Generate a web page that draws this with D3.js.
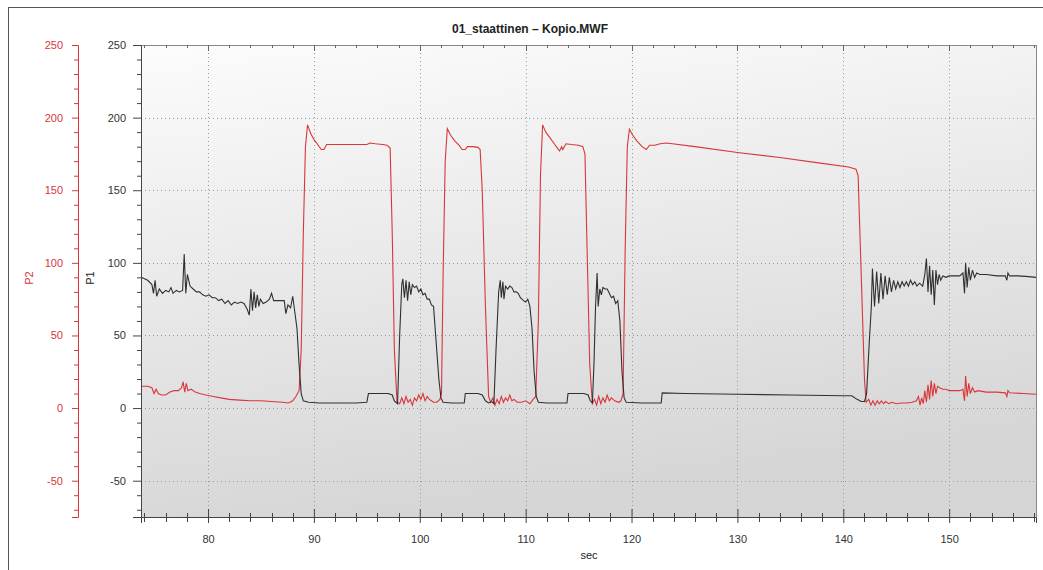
<!DOCTYPE html>
<html>
  <head>
    <meta charset="utf-8">
    <style>
      body { margin: 0; background: #fff; }
      text { font-family: Arial, "Liberation Sans", sans-serif; }
    </style>
  </head>
  <body>
    <svg id="container" width="1043" height="570"></svg>
    <script src="https://cdn.jsdelivr.net/npm/d3@7"></script>
    <script>
      // data: [sec, value]
      const title = "01_staattinen \u2013 Kopio.MWF";
      const xDomain = [73.67, 158.2];
      const yDomain = [-75, 250];
      const xMajor = [80, 90, 100, 110, 120, 130, 140, 150];
      const yMajor = [-50, 0, 50, 100, 150, 200, 250];

      const p1 = [
        [73.7, 90], [74.3, 88], [74.7, 85], [74.85, 79], [75.0, 88], [75.15, 77], [75.4, 82],
        [75.7, 79], [76.0, 81], [76.3, 80], [76.5, 83], [76.7, 79], [77.0, 81], [77.3, 80],
        [77.6, 81], [77.75, 106], [77.9, 79], [78.05, 92], [78.3, 84], [78.6, 82], [78.9, 80],
        [79.2, 80], [79.5, 78], [79.8, 77], [80.1, 78], [80.4, 76], [80.7, 76], [81.0, 74],
        [81.3, 75], [81.6, 72], [81.9, 74], [82.2, 71], [82.5, 73], [82.8, 72], [83.1, 73],
        [83.4, 72], [83.7, 68], [83.9, 64], [84.05, 82], [84.2, 67], [84.35, 80], [84.5, 69],
        [84.65, 78], [84.8, 70], [84.95, 75], [85.2, 72], [85.5, 73], [85.8, 75], [86.0, 79],
        [86.2, 74], [86.6, 74], [87.0, 74], [87.2, 74], [87.35, 65], [87.55, 71], [87.8, 69],
        [88.0, 77], [88.2, 66], [88.4, 55], [88.6, 30], [88.8, 10], [89.0, 5], [89.5, 4],
        [90.5, 3.5], [92, 3.5], [94, 3.5], [95.0, 4], [95.15, 10], [96, 10], [97.0, 10],
        [97.4, 9], [97.6, 5], [97.9, 3], [98.1, 50], [98.3, 85], [98.4, 89], [98.55, 76],
        [98.7, 88], [98.85, 74], [99.0, 87], [99.15, 78], [99.3, 85], [99.5, 83], [99.7, 84],
        [99.9, 80], [100.1, 82], [100.3, 78], [100.5, 79], [100.7, 75], [100.9, 75], [101.1, 71],
        [101.3, 70], [101.5, 50], [101.8, 20], [102.0, 7], [102.2, 4], [103, 3.5], [104.2, 3.5],
        [104.3, 10], [105.5, 10], [105.9, 9], [106.2, 5], [106.5, 3.5], [106.8, 4.5], [107.0, 3],
        [107.2, 40], [107.45, 80], [107.6, 88], [107.7, 76], [107.85, 87], [107.95, 75], [108.1, 84],
        [108.3, 82], [108.5, 84], [108.7, 83], [108.9, 80], [109.1, 80], [109.3, 79], [109.5, 76],
        [109.8, 74], [110.0, 73], [110.2, 75], [110.4, 70], [110.6, 55], [110.8, 25], [111.0, 8],
        [111.2, 4], [112, 3.5], [113.9, 3.5], [114.0, 10], [115.5, 10], [115.9, 9], [116.1, 5],
        [116.3, 3.5], [116.45, 30], [116.6, 70], [116.75, 93], [116.85, 70], [117.0, 82],
        [117.15, 78], [117.3, 83], [117.5, 82], [117.7, 82], [117.9, 79], [118.1, 76], [118.3, 77],
        [118.5, 72], [118.7, 74], [118.9, 60], [119.1, 25], [119.3, 7], [119.5, 4], [121, 3.5],
        [122.8, 3.5], [122.9, 10.5], [125, 10], [130, 9.5], [135, 9], [140, 8.5], [140.8, 8.5],
        [141.3, 6], [141.7, 4.5], [142.0, 4.5], [142.2, 10], [142.45, 45], [142.65, 70],
        [142.75, 96], [142.95, 70], [143.15, 94], [143.35, 72], [143.55, 93], [143.75, 75],
        [143.95, 91], [144.15, 78], [144.35, 90], [144.55, 80], [144.75, 88], [144.95, 82],
        [145.15, 87], [145.35, 83], [145.55, 87], [145.75, 84], [145.95, 87], [146.15, 84],
        [146.35, 88], [146.55, 85], [146.75, 87], [146.95, 84], [147.2, 86], [147.5, 84],
        [147.7, 92], [147.85, 103], [148.0, 80], [148.15, 98], [148.3, 78], [148.45, 95],
        [148.6, 71], [148.75, 95], [148.9, 85], [149.05, 92], [149.2, 88], [149.4, 91],
        [149.7, 90], [150.0, 91], [150.5, 91], [151.0, 91], [151.3, 93], [151.45, 79],
        [151.55, 100], [151.7, 83], [151.85, 97], [152.0, 88], [152.2, 95], [152.4, 90],
        [152.6, 93], [152.9, 92], [153.5, 92], [154.5, 91], [155.3, 91], [155.45, 88],
        [155.55, 93], [155.7, 91], [156.5, 91], [157.5, 90.5], [158.2, 90]
      ];

      const p2 = [
        [73.7, 15], [74.3, 15], [74.7, 14], [74.9, 10], [75.1, 13], [75.3, 10], [75.6, 9],
        [76.0, 9], [76.4, 11], [76.8, 12], [77.2, 12], [77.5, 14], [77.65, 18], [77.8, 11],
        [77.95, 17], [78.1, 12], [78.4, 13], [78.8, 11], [79.2, 10], [79.8, 9], [80.5, 8],
        [81.2, 7], [82.0, 6], [83.0, 5.5], [84.0, 5], [85.0, 5], [86.0, 4.5], [87.0, 4],
        [87.6, 3.5], [88.0, 5], [88.3, 8], [88.6, 12], [88.8, 40], [89.0, 120], [89.2, 180],
        [89.4, 195], [89.7, 189], [90.0, 185], [90.4, 181], [90.7, 178], [90.95, 178],
        [91.2, 181.5], [92, 181.5], [93, 181.5], [94, 181.5], [95.0, 181.5], [95.3, 182.5],
        [95.8, 182], [96.5, 181.5], [96.9, 181], [97.2, 179], [97.4, 120], [97.6, 40], [97.85, 4],
        [98.1, 3], [98.3, 7], [98.5, 3], [98.7, 8], [98.9, 4], [99.1, 6], [99.3, 2], [99.5, 7],
        [99.7, 5], [99.9, 9], [100.1, 6], [100.3, 10], [100.5, 5], [100.7, 8], [100.9, 6],
        [101.1, 5], [101.3, 4], [101.6, 4], [101.9, 6], [102.05, 10], [102.2, 90], [102.4, 170],
        [102.6, 192.5], [102.9, 188], [103.3, 184], [103.7, 181], [104.0, 178], [104.3, 178],
        [104.5, 180], [105.0, 180], [105.5, 179.5], [105.7, 178], [105.9, 150], [106.2, 70],
        [106.5, 8], [106.7, 4], [106.9, 7], [107.1, 2], [107.3, 6], [107.5, 3], [107.7, 8],
        [107.9, 4], [108.1, 7], [108.3, 5], [108.5, 9], [108.7, 5], [108.9, 6], [109.2, 4],
        [109.6, 4], [110.0, 5], [110.4, 3], [110.7, 6], [110.95, 8], [111.2, 60], [111.4, 160],
        [111.6, 195], [111.9, 190], [112.3, 186], [112.7, 182], [113.0, 179], [113.2, 177],
        [113.4, 180], [113.5, 178], [113.8, 182], [114.3, 181.5], [115.0, 181], [115.4, 180],
        [115.6, 175], [115.8, 110], [116.05, 30], [116.3, 3], [116.5, 6], [116.7, 2], [116.9, 8],
        [117.1, 3], [117.3, 7], [117.5, 4], [117.7, 9], [117.9, 5], [118.1, 7], [118.4, 5],
        [118.8, 4], [119.0, 5], [119.2, 10], [119.4, 110], [119.6, 180], [119.8, 192], [120.1, 188],
        [120.5, 184], [121.0, 180], [121.4, 178], [121.7, 181], [122.2, 181], [122.7, 182],
        [123.3, 182.5], [126, 180], [130, 176], [134, 172.5], [138, 168.5], [140.5, 166],
        [141.2, 164.5], [141.4, 160], [141.7, 90], [142.0, 20], [142.15, 4], [142.4, 6], [142.6, 2],
        [142.8, 5], [143.0, 2], [143.2, 5], [143.4, 3], [143.6, 5], [143.8, 3], [144.0, 4.5],
        [144.3, 3], [144.6, 4], [145.0, 3], [145.5, 3.5], [146.0, 3.5], [146.5, 4], [146.9, 5],
        [147.1, 8], [147.25, 2], [147.4, 7], [147.55, 3], [147.7, 12], [147.85, 4], [148.0, 16],
        [148.15, 6], [148.3, 19], [148.45, 8], [148.6, 17], [148.75, 10], [148.9, 15], [149.1, 14],
        [149.4, 13], [149.7, 13], [150.0, 12], [150.5, 12], [151.0, 12], [151.3, 13], [151.45, 5],
        [151.55, 22], [151.7, 8], [151.85, 17], [152.0, 10], [152.2, 14], [152.4, 11], [152.7, 12],
        [153.5, 11], [154.5, 11], [155.3, 10.5], [155.45, 8], [155.55, 12], [155.7, 10.5],
        [157, 10], [158.2, 9.5]
      ];

      const svg = d3.select("#container");
      const pLeft = 141, pRight = 1036, pTop = 45, pBottom = 517;
      const red = "#d9363a";
      const plainNum = (d) => String(d); // hyphen minus, like the original

      const x = d3.scaleLinear().domain(xDomain).range([pLeft, pRight]);
      const y = d3.scaleLinear().domain(yDomain).range([pBottom, pTop]);

      // outer frame
      svg.append("rect")
        .attr("x", 8.5).attr("y", 7.5).attr("width", 1040).attr("height", 580)
        .attr("fill", "none").attr("stroke", "#555");

      // plot background
      let defs = svg.append("defs");
      let grad = defs.append("linearGradient")
        .attr("id", "bg").attr("x1", 0).attr("y1", 0).attr("x2", 0.25).attr("y2", 1);
      grad.append("stop").attr("offset", "0%").attr("stop-color", "#fcfcfc");
      grad.append("stop").attr("offset", "100%").attr("stop-color", "#d6d6d6");
      defs.append("clipPath").attr("id", "clip")
        .append("rect").attr("x", pLeft).attr("y", pTop)
        .attr("width", pRight - pLeft).attr("height", pBottom - pTop);

      svg.append("rect")
        .attr("x", pLeft).attr("y", pTop).attr("width", pRight - pLeft).attr("height", pBottom - pTop)
        .attr("fill", "url(#bg)");

      // grid
      let grid = svg.append("g").attr("stroke", "#9a9a9a").attr("stroke-dasharray", "1,3");
      grid.selectAll(".gx").data(xMajor).enter().append("line")
        .attr("x1", (d) => Math.round(x(d)) + 0.5).attr("x2", (d) => Math.round(x(d)) + 0.5)
        .attr("y1", pTop).attr("y2", pBottom);
      grid.selectAll(".gy").data(yMajor.filter((d) => d < 250)).enter().append("line")
        .attr("x1", pLeft).attr("x2", pRight)
        .attr("y1", (d) => Math.round(y(d)) + 0.5).attr("y2", (d) => Math.round(y(d)) + 0.5);

      // top and right borders
      svg.append("line").attr("x1", pLeft).attr("x2", pRight).attr("y1", pTop + 0.5).attr("y2", pTop + 0.5)
        .attr("stroke", "#888");
      svg.append("line").attr("x1", pRight + 0.5).attr("x2", pRight + 0.5).attr("y1", pTop).attr("y2", pBottom)
        .attr("stroke", "#888");
      let minorX = d3.range(74, 159, 2);
      svg.append("g").selectAll("line").data(minorX).enter().append("line")
        .attr("x1", (d) => Math.round(x(d)) + 0.5).attr("x2", (d) => Math.round(x(d)) + 0.5)
        .attr("y1", pTop).attr("y2", (d) => pTop + (d % 10 === 0 ? 6 : 3))
        .attr("stroke", "#666");

      // lines
      let line = d3.line().x((d) => x(d[0])).y((d) => y(d[1]));
      let plot = svg.append("g").attr("clip-path", "url(#clip)");
      plot.append("path").datum(p2).attr("d", line)
        .attr("fill", "none").attr("stroke", red).attr("stroke-width", 1.1);
      plot.append("path").datum(p1).attr("d", line)
        .attr("fill", "none").attr("stroke", "#303030").attr("stroke-width", 1.1);

      // bottom axis
      let xAxis = svg.append("g").attr("transform", `translate(0, ${pBottom})`)
        .call(d3.axisBottom(x).tickValues(xMajor).tickFormat(plainNum).tickSizeOuter(0).tickSize(6).tickPadding(12));
      xAxis.select(".domain").attr("stroke", "#444");
      xAxis.selectAll(".tick line").attr("y1", -8).attr("stroke", "#444");
      xAxis.selectAll("text").attr("font-size", 11).attr("fill", "#333");
      svg.append("g").attr("transform", `translate(0, ${pBottom})`)
        .selectAll("line").data(minorX.filter((d) => d % 10 !== 0)).enter().append("line")
        .attr("x1", (d) => Math.round(x(d)) + 0.5).attr("x2", (d) => Math.round(x(d)) + 0.5)
        .attr("y1", -4).attr("y2", 5).attr("stroke", "#444");

      // P1 axis
      let minorY = d3.range(-70, 251, 10).filter((d) => d % 50 !== 0);
      let p1Axis = svg.append("g").attr("transform", `translate(${pLeft}, 0)`)
        .call(d3.axisLeft(y).tickValues(yMajor).tickFormat(plainNum).tickSizeOuter(0).tickSize(8).tickPadding(7));
      p1Axis.select(".domain").attr("stroke", "#444");
      p1Axis.selectAll(".tick line").attr("stroke", "#444");
      p1Axis.selectAll("text").attr("font-size", 11).attr("fill", "#333");
      svg.append("g").attr("transform", `translate(${pLeft}, 0)`)
        .call(d3.axisLeft(y).tickValues(minorY).tickSize(4).tickFormat(""))
        .call((g) => g.select(".domain").remove())
        .selectAll("line").attr("stroke", "#444");

      // P2 axis
      let p2x = 78;
      let p2Axis = svg.append("g").attr("transform", `translate(${p2x}, 0)`)
        .call(d3.axisLeft(y).tickValues(yMajor).tickFormat(plainNum).tickSizeOuter(0).tickSize(6).tickPadding(9));
      p2Axis.select(".domain").attr("stroke", red);
      p2Axis.selectAll(".tick line").attr("stroke", red);
      p2Axis.selectAll("text").attr("font-size", 11).attr("fill", red);
      svg.append("g").attr("transform", `translate(${p2x}, 0)`)
        .call(d3.axisLeft(y).tickValues(minorY).tickSize(4).tickFormat(""))
        .call((g) => g.select(".domain").remove())
        .selectAll("line").attr("stroke", red);

      // labels
      svg.append("text").attr("x", 530).attr("y", 33).attr("text-anchor", "middle")
        .attr("font-size", 12).attr("font-weight", "bold").attr("fill", "#222").text(title);
      svg.append("text").attr("x", 589).attr("y", 559).attr("text-anchor", "middle")
        .attr("font-size", 11).attr("fill", "#222").text("sec");
      svg.append("text").attr("transform", "translate(94, 278) rotate(-90)").attr("text-anchor", "middle")
        .attr("font-size", 11).attr("fill", "#222").text("P1");
      svg.append("text").attr("transform", "translate(33, 278) rotate(-90)").attr("text-anchor", "middle")
        .attr("font-size", 11).attr("fill", red).text("P2");
    </script>
  </body>
</html>
